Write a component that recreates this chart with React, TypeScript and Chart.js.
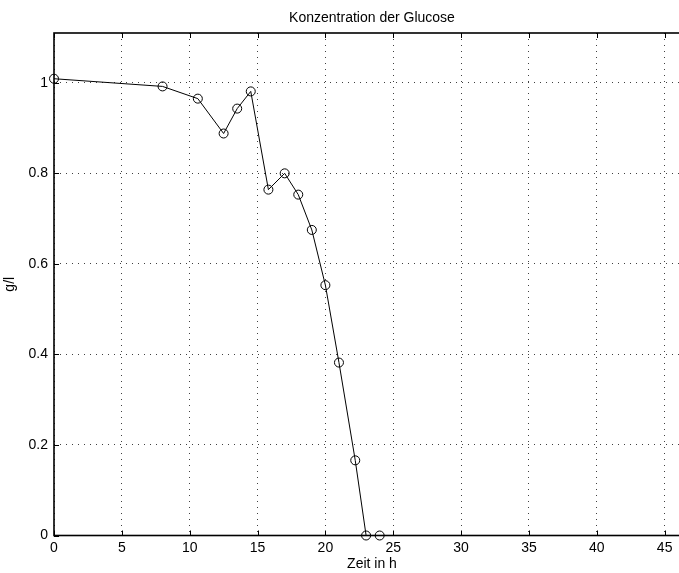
import React, { useEffect, useRef } from "react";
import { Chart, registerables } from "chart.js";

Chart.register(...registerables);

// Data
const timeH: number[] = [0, 8, 10.6, 12.5, 13.5, 14.5, 15.8, 17, 18, 19, 20, 21, 22.2, 23, 24];
const glucose: number[] = [1.009, 0.992, 0.965, 0.888, 0.943, 0.981, 0.764, 0.8, 0.753, 0.675, 0.553, 0.382, 0.166, 0, 0];

const titleText = "Konzentration der Glucose";
const xLabel = "Zeit in h";
const yLabel = "g/l";
const xTicksStep = 5;
const yTicksStep = 0.2;
const xMin = 0;
const xMax = 46.87;
const yMin = 0;
const yMax = 1.11;

const FONT = "'Liberation Sans', Arial, Helvetica, sans-serif";

const framePlugin = {
  id: "matlabFrame",
  afterDraw(chart: any) {
    const { ctx, chartArea, scales } = chart;
    const { left, right, top, bottom } = chartArea;
    ctx.save();
    // inward tick marks
    ctx.strokeStyle = "#000";
    ctx.lineWidth = 1;
    const tl = 5;
    scales.x.ticks.forEach((t: any) => {
      const px = Math.round(scales.x.getPixelForValue(t.value)) + 0.5;
      ctx.beginPath();
      ctx.moveTo(px, bottom);
      ctx.lineTo(px, bottom - tl);
      ctx.moveTo(px, top);
      ctx.lineTo(px, top + tl);
      ctx.stroke();
    });
    scales.y.ticks.forEach((t: any) => {
      const py = Math.round(scales.y.getPixelForValue(t.value)) + 0.5;
      ctx.beginPath();
      ctx.moveTo(left, py);
      ctx.lineTo(left + tl, py);
      ctx.moveTo(right, py);
      ctx.lineTo(right - tl, py);
      ctx.stroke();
    });
    // box
    ctx.lineWidth = 1.6;
    ctx.strokeRect(left, top, right - left, bottom - top);
    // title
    ctx.fillStyle = "#000";
    ctx.font = `14px ${FONT}`;
    ctx.textAlign = "center";
    ctx.textBaseline = "middle";
    ctx.fillText(titleText, (left + right) / 2, 18);
    ctx.restore();
  },
};

export default function App() {
  const canvasRef = useRef<HTMLCanvasElement | null>(null);

  useEffect(() => {
    const canvas = canvasRef.current;
    if (!canvas) return;
    const points = timeH.map((x, i) => ({ x, y: glucose[i] }));
    const chart = new Chart(canvas, {
      type: "scatter",
      data: {
        datasets: [
          {
            data: points,
            showLine: true,
            borderColor: "#000",
            borderWidth: 1,
            backgroundColor: "rgba(0,0,0,0)",
            pointRadius: 4.5,
            pointBorderColor: "#000",
            pointBorderWidth: 1,
            pointBackgroundColor: "rgba(0,0,0,0)",
            clip: false,
          } as any,
        ],
      },
      options: {
        responsive: false,
        animation: false,
        devicePixelRatio: 1,
        layout: { padding: { top: 33, right: 36, left: 0, bottom: 0 } },
        plugins: {
          legend: { display: false },
          tooltip: { enabled: false },
          title: { display: false },
        },
        scales: {
          x: {
            type: "linear",
            min: xMin,
            max: xMax,
            afterFit(scale: any) {
              scale.height = 37.5;
            },
            ticks: {
              stepSize: xTicksStep,
              includeBounds: false,
              color: "#000",
              font: { family: FONT, size: 14 },
              padding: 4,
              maxRotation: 0,
              autoSkip: false,
            },
            grid: {
              drawTicks: false,
              color: "rgba(0,0,0,0.75)",
              lineWidth: 1,
            },
            border: { display: false, dash: [1, 5] },
            title: {
              display: true,
              text: xLabel,
              color: "#000",
              font: { family: FONT, size: 14 },
              padding: { top: 0, bottom: 0 },
            },
          } as any,
          y: {
            type: "linear",
            min: yMin,
            max: yMax,
            afterFit(scale: any) {
              scale.width = 54;
            },
            ticks: {
              stepSize: yTicksStep,
              includeBounds: false,
              color: "#000",
              font: { family: FONT, size: 14 },
              padding: 6,
              callback: (v: any) => String(Number(Number(v).toFixed(2))),
            },
            grid: {
              drawTicks: false,
              color: "rgba(0,0,0,0.75)",
              lineWidth: 1,
            },
            border: { display: false, dash: [1, 5] },
            title: {
              display: true,
              text: yLabel,
              color: "#000",
              font: { family: FONT, size: 14 },
              padding: { top: 2, bottom: 0 },
            },
          } as any,
        },
      },
      plugins: [framePlugin],
    });
    return () => chart.destroy();
  }, []);

  return (
    <div
      style={{
        position: "fixed",
        left: 0,
        top: 0,
        width: 679,
        height: 573,
        overflow: "hidden",
        background: "#fff",
      }}
    >
      <canvas ref={canvasRef} width={726} height={573} style={{ display: "block" }} />
    </div>
  );
}
